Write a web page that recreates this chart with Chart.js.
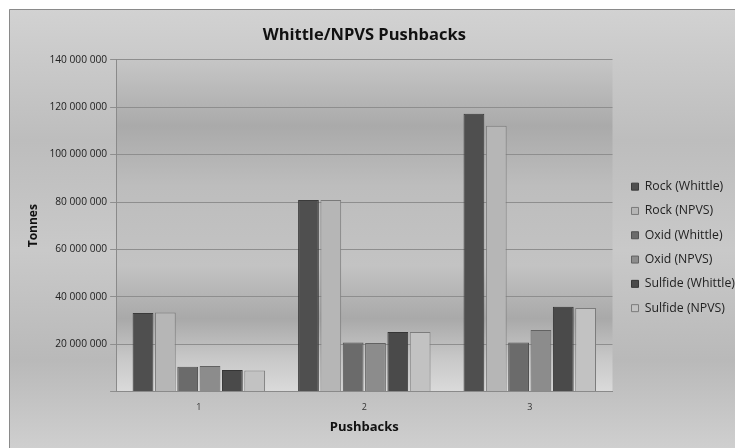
<!DOCTYPE html>
<html>
<head>
<meta charset="utf-8">
<script src="https://cdn.jsdelivr.net/npm/chart.js@4/dist/chart.umd.min.js"></script>
<style>
  html, body { margin: 0; padding: 0; background: #fff; }
  #wrap { width: 735px; height: 448px; position: relative; }
</style>
</head>
<body>
<div id="wrap"><canvas id="chart" width="735" height="448"></canvas></div>
<script>
// --- data ---
const categories = ['1', '2', '3'];
const rockWhittle = [33200000, 80800000, 117200000];
const rockNpvs = [33400000, 80800000, 112200000];
const oxidWhittle = [10500000, 20700000, 20700000];
const oxidNpvs = [10800000, 20500000, 26000000];
const sulfideWhittle = [9100000, 25200000, 35800000];
const sulfideNpvs = [8900000, 25200000, 35300000];
const yTicks = [0, 20000000, 40000000, 60000000, 80000000, 100000000, 120000000, 140000000];

const fmt = v => v === 0 ? '' : String(v).replace(/\B(?=(\d{3})+(?!\d))/g, ' ');

// grey frame + banded plot background
const backdrop = {
    id: 'backdrop',
    beforeDraw(chart) {
        const { ctx, chartArea: a } = chart;
        ctx.save();
        const g = ctx.createLinearGradient(0, 9, 0, 448);
        g.addColorStop(0, '#d2d2d2');
        g.addColorStop(0.3, '#bdbdbd');
        g.addColorStop(0.55, '#c9c9c9');
        g.addColorStop(0.8, '#b9b9b9');
        g.addColorStop(1, '#cfcfcf');
        ctx.fillStyle = g;
        ctx.fillRect(9, 9, 735, 448);
        ctx.strokeStyle = '#8a8a8a';
        ctx.lineWidth = 1;
        ctx.beginPath();
        ctx.moveTo(9.5, 448); ctx.lineTo(9.5, 9.5); ctx.lineTo(735, 9.5);
        ctx.stroke();
        const p = ctx.createLinearGradient(0, a.top, 0, a.bottom);
        p.addColorStop(0, '#c6c6c6');
        p.addColorStop(0.2, '#aaaaaa');
        p.addColorStop(0.38, '#bdbdbd');
        p.addColorStop(0.62, '#c3c3c3');
        p.addColorStop(0.78, '#a9a9a9');
        p.addColorStop(0.9, '#c8c8c8');
        p.addColorStop(1, '#dadada');
        ctx.fillStyle = p;
        ctx.fillRect(a.left, a.top, a.right - a.left, a.bottom - a.top);
        ctx.restore();
    }
};

const series = [
    { label: 'Rock (Whittle)', data: rockWhittle, bg: '#4f4f4f', bd: '#3a3a3a' },
    { label: 'Rock (NPVS)', data: rockNpvs, bg: '#b6b6b6', bd: '#7a7a7a' },
    { label: 'Oxid (Whittle)', data: oxidWhittle, bg: '#6b6b6b', bd: '#505050' },
    { label: 'Oxid (NPVS)', data: oxidNpvs, bg: '#8c8c8c', bd: '#626262' },
    { label: 'Sulfide (Whittle)', data: sulfideWhittle, bg: '#4a4a4a', bd: '#353535' },
    { label: 'Sulfide (NPVS)', data: sulfideNpvs, bg: '#c2c2c2', bd: '#7c7c7c' }
];

const font = 'Open Sans, Noto Sans, sans-serif';

new Chart(document.getElementById('chart'), {
    type: 'bar',
    data: {
        labels: categories,
        datasets: series.map(s => ({
            label: s.label,
            data: s.data,
            backgroundColor: s.bg,
            borderColor: s.bd,
            borderWidth: 1,
            categoryPercentage: 0.81,
            barPercentage: 0.93
        }))
    },
    options: {
        responsive: false,
        animation: false,
        layout: { padding: { top: 21, left: 22, right: -4, bottom: 9 } },
        plugins: {
            title: {
                display: true,
                fullSize: false,
                text: 'Whittle/NPVS Pushbacks',
                color: '#111',
                font: { family: font, size: 16.5, weight: 'bold' },
                padding: { top: 4, bottom: 15 }
            },
            legend: {
                position: 'right',
                title: { display: true, text: '', font: { size: 4 }, padding: { top: 15, bottom: 15 } },
                labels: {
                    color: '#222',
                    font: { family: font, size: 12.3 },
                    boxWidth: 7,
                    boxHeight: 7,
                    padding: 12
                }
            },
            tooltip: { enabled: false }
        },
        scales: {
            x: {
                grid: { display: false, drawTicks: true },
                border: { color: '#8a8a8a' },
                ticks: { color: '#333', font: { family: font, size: 9 }, padding: 2 },
                title: {
                    display: true,
                    text: 'Pushbacks',
                    color: '#111',
                    font: { family: font, size: 13, weight: 'bold' },
                    padding: { top: 5 }
                }
            },
            y: {
                min: 0,
                max: 140000000,
                afterBuildTicks(axis) { axis.ticks = yTicks.map(v => ({ value: v })); },
                grid: { color: '#8e8e8e', tickLength: 6, tickColor: '#8e8e8e' },
                border: { color: '#8a8a8a' },
                ticks: {
                    color: '#222',
                    font: { family: font, size: 10.2 },
                    padding: 3,
                    callback: v => fmt(v)
                },
                title: {
                    display: true,
                    text: 'Tonnes',
                    color: '#111',
                    font: { family: font, size: 12, weight: 'bold' },
                    padding: { bottom: 6 }
                }
            },
            // empty spacer between plot and legend
            gap: {
                position: 'right',
                grid: { display: false },
                border: { display: false },
                ticks: { display: false },
                afterFit(scale) { scale.width = 7; }
            }
        }
    },
    plugins: [backdrop]
});
</script>
</body>
</html>
